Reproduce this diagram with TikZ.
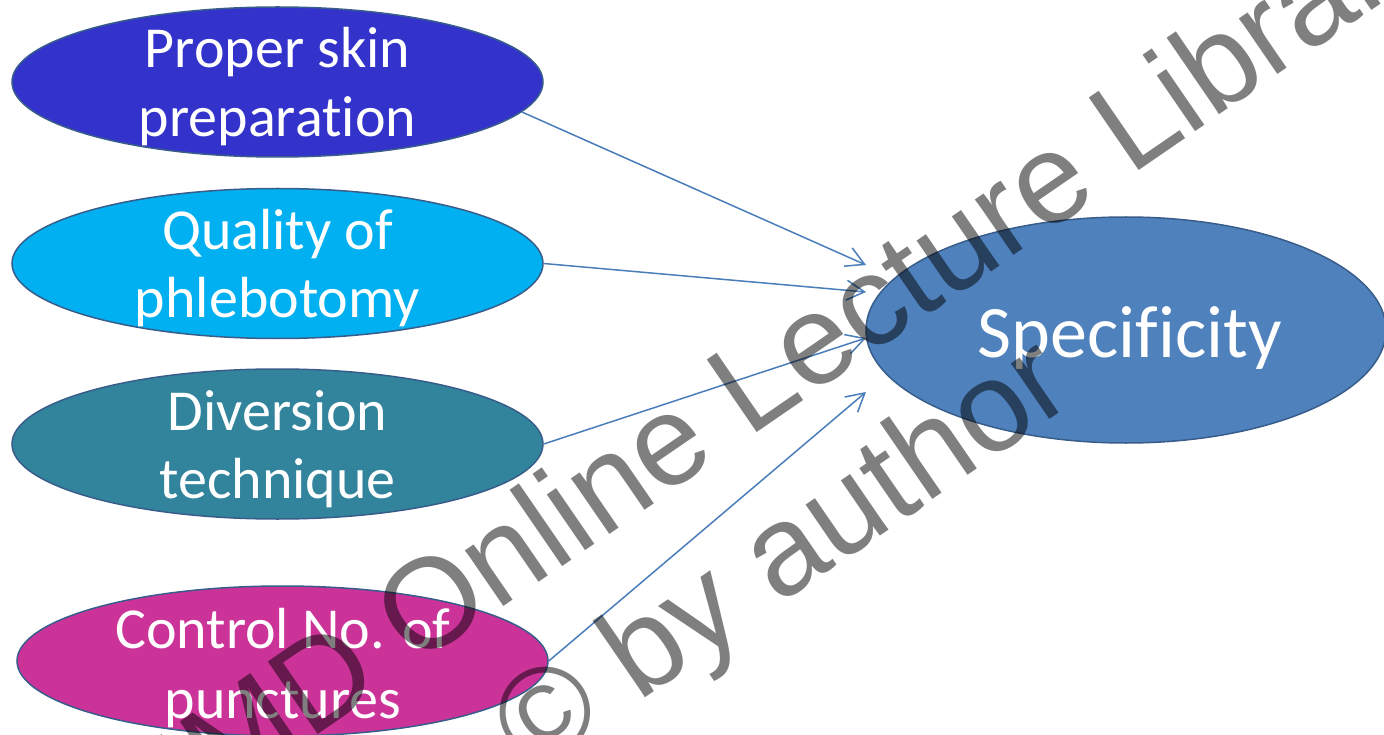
\documentclass[tikz,border=0pt]{standalone}
\usepackage{fontspec}
\setmainfont{Carlito}[RawFeature={-liga,-clig}]
\newfontfamily\wmfont{Liberation Sans}
\usetikzlibrary{shapes.geometric,arrows.meta}
\definecolor{cskin}{HTML}{3333CC}
\definecolor{cqual}{HTML}{00B0F0}
\definecolor{cdiv}{HTML}{31849B}
\definecolor{cpunc}{HTML}{CC3399}
\definecolor{cspec}{HTML}{4F81BD}
\definecolor{cborder}{HTML}{385D8A}
\definecolor{carrow}{HTML}{4A7EBB}
\tikzset{
  oval/.style={ellipse, draw=cborder, line width=1.5pt, inner sep=0pt,
    minimum width=531pt, minimum height=150pt},
  lbl/.style={text=white, inner sep=0pt, anchor=base,
    font=\fontsize{58}{69}\selectfont},
  biglbl/.style={text=white, inner sep=0pt, anchor=base,
    font=\fontsize{74}{88}\selectfont},
  conn/.style={draw=carrow, line width=1.5pt,
    -{Straight Barb[length=18pt,width=20pt,line width=1.5pt]}},
  wm/.style={text=black, text opacity=0.5, inner sep=0pt, anchor=base west,
    rotate=34.5, font=\wmfont\fontsize{128}{154}\selectfont}
}
\begin{document}
\begin{tikzpicture}[x=1pt,y=-1pt]
\clip (0,0) rectangle (1384,735);
\fill[white] (0,0) rectangle (1384,735);

\node[oval, fill=cskin] (e1) at (277.5,82) {};
\node[oval, fill=cqual] (e2) at (277.5,263.5) {};
\node[oval, fill=cdiv]  (e3) at (277.5,444) {};
\node[oval, fill=cpunc] (e4) at (282.5,661) {};
\node[oval, fill=cspec, minimum width=520pt, minimum height=226pt] (spec) at (1126,330) {};

\node[lbl] (t1a) at (277.5,68) {Proper skin};
\node[lbl] (t1b) at (277.5,137) {preparation};
\node[lbl] (t2a) at (277.5,250) {Quality of};
\node[lbl] (t2b) at (277.5,318) {phlebotomy};
\node[lbl] (t3a) at (277.5,430) {Diversion};
\node[lbl] (t3b) at (277.5,498) {technique};
\node[lbl] (t4a) at (283,648) {Control No. of};
\node[lbl] (t4b) at (283,718) {punctures};
\node[biglbl] (ts) at (1130,357) {Specificity};

\coordinate (p1) at (866,265);
\coordinate (p2) at (866,292);
\coordinate (p3) at (866,338);
\coordinate (p4) at (866,392);

\draw[conn] (e1.-7.4) -- (p1);
\draw[conn] (e2.east) -- (p2);
\draw[conn] (e3.east) -- (p3);
\draw[conn] (e4.east) -- (p4);

\node[wm] (wm1) at (192,821) {IMD Online Lecture Library};
\node[wm] (wm2) at (531,776) {© by author};
\end{tikzpicture}
\end{document}
